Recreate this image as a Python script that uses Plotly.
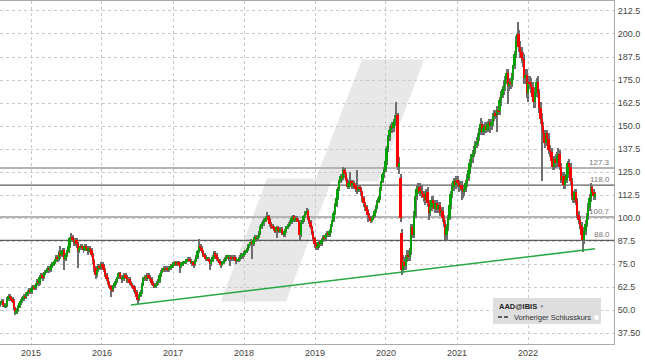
import plotly.graph_objects as go
import pandas as pd
import numpy as np

# ---------------- data (weekly candles) ----------------
first_week = "2014-07-28"

closes = [
54,55,53,52,53,56,58,57,56,55,
51,49,50,52,54,55,56,58,57,59,
60,61,60,62,63,62,64,66,65,68,
69,68,70,71,72,73,72,74,75,76,
77,79,78,81,80,82,83,78,80,82,
85,89,90,88,87,88,86,82,84,85,
84,83,85,84,82,84,83,80,77,73,
69,72,74,73,75,74,72,69,67,65,
63,62,61,63,65,66,68,70,68,67,
67,69,68,66,67,65,64,63,62,60,
57,56,58,60,64,67,68,67,69,68,
67,65,64,63,64,65,66,69,71,72,
73,72,73,72,73,74,74,75,76,75,
76,75,74,75,76,76,77,77,78,77,
76,76,75,77,79,82,85,84,82,80,
79,78,78,77,75,77,79,81,80,78,
77,76,75,76,77,78,79,79,78,79,
78,79,78,77,77,78,79,80,80,81,
82,83,85,86,87,86,88,90,89,90,
92,95,97,98,99,100,101,99,97,96,
95,94,93,95,94,93,94,92,91,93,
95,96,97,98,100,101,99,100,99,98,
91,98,99,101,103,104,100,98,95,92,
89,86,84,85,87,86,88,90,89,91,
92,91,93,96,99,103,107,111,116,120,
123,122,126,124,121,117,119,120,118,119,
118,116,115,117,116,114,111,108,106,104,
102,100,99,100,101,104,106,109,111,116,
120,124,126,131,138,144,148,150,149,152,
154,156,128,130,100,72,76,74,78,80,
79,82,95,91,102,112,116,117,114,115,
113,112,110,114,108,103,106,110,108,105,
108,105,107,103,104,100,97,91,95,100,
107,113,117,120,118,121,119,117,118,116,
114,116,119,122,126,130,133,135,137,140,
141,144,147,151,147,149,150,148,151,152,
150,152,155,157,156,159,158,164,167,170,
172,175,179,172,174,173,177,183,189,196,
200,193,190,187,186,176,178,168,174,173,
171,166,163,168,174,168,160,154,150,146,
141,146,143,137,136,131,128,132,130,134,
135,128,121,123,118,121,124,130,128,120,
112,110,114,109,102,99,96,91,88,93,
97,101,106,111,117,114,112,113]

opens = [
53,54,55,53,52,53,56,58,57,56,
55,51,49,50,52,54,55,56,58,57,
59,60,61,60,62,63,62,64,66,65,
68,69,68,70,71,72,73,72,74,75,
76,77,79,78,81,80,82,83,78,80,
82,85,89,90,88,87,88,86,82,84,
85,84,83,85,84,82,84,83,80,77,
73,69,72,74,73,75,74,72,69,67,
65,63,62,61,63,65,66,68,70,68,
67,67,69,68,66,67,65,64,63,62,
60,57,56,58,60,64,67,68,67,69,
68,67,65,64,63,64,65,66,69,71,
72,73,72,73,72,73,74,74,75,76,
75,76,75,74,75,76,76,77,77,78,
77,76,76,75,77,79,82,85,84,82,
80,79,78,78,77,75,77,79,81,80,
78,77,76,75,76,77,78,79,79,78,
79,78,79,78,77,77,78,79,80,80,
81,82,83,85,86,87,86,88,90,89,
90,92,95,97,98,99,100,101,99,97,
96,95,94,93,95,94,93,94,92,91,
93,95,96,97,98,100,101,99,100,99,
98,91,98,99,101,103,104,100,98,95,
92,89,86,84,85,87,86,88,90,89,
91,92,91,93,96,99,103,107,111,116,
120,123,122,126,124,121,117,119,120,118,
119,118,116,115,117,116,114,111,108,106,
104,102,100,99,100,101,104,106,109,111,
116,120,124,126,131,138,144,148,150,149,
152,154,156,128,122,92,72,76,74,78,
80,79,82,95,91,102,112,116,117,114,
115,113,112,110,114,108,103,106,110,108,
105,108,105,107,103,104,100,97,91,95,
100,107,113,117,120,118,121,119,117,118,
116,114,116,119,122,126,130,133,135,137,
140,141,144,147,151,147,149,150,148,151,
152,150,152,155,157,156,159,158,164,167,
170,172,175,179,172,174,173,177,183,189,
196,200,193,190,187,186,176,178,168,174,
173,171,166,163,168,174,168,160,154,150,
146,141,146,143,137,136,131,128,132,130,
134,135,128,121,123,118,121,124,130,128,
120,112,110,114,109,102,99,96,91,88,
93,97,101,106,111,117,114,112]

highs = [
55,56,56,54,54,57,59,59,58,57,
56,52,51,53,55,56,57,59,59,60,
61,62,62,63,64,64,65,67,67,69,
70,70,71,72,73,74,74,75,76,77,
78,80,80,82,85,83,84,84,81,83,
86,90,92,91,89,89,89,87,85,86,
86,85,86,86,85,85,85,84,81,78,
74,73,75,75,76,76,75,73,70,68,
66,64,63,64,66,67,69,71,71,69,
68,70,70,69,68,68,66,65,64,63,
61,58,59,61,65,68,69,69,70,70,
69,68,66,65,65,66,67,70,72,73,
74,74,74,74,74,75,75,76,77,77,
77,77,76,76,77,77,78,78,79,79,
78,77,77,78,80,83,88.5,86,85,83,
81,80,79,79,78,78,80,82,82,81,
79,78,77,77,78,79,80,80,80,80,
80,80,80,79,78,79,80,81,81,82,
83,84,86,87,88.5,88,89,91,91,91,
93,96,98,99,100,101,103.5,102,100,98,
97,96,95,96,96,95,95,95,93,94,
96,97,98,99,101,102,102,101,101,100,
99,99,100,102,104,105.5,105,101,99,96,
93,90,87,86,88,88,89,91,91,92,
93,93,94,97,100,104,108,112,117,121,
124,124,128,127,125,122,121,125,121,121,
120,119,126,118,118,117,115,112,109,107,
105,103,101,101,102,105,107,110,112,117,
121,125,128,132,139,145,150,151,152,154,
156,163,157,133,124,94,80,79,80,83,
83,84,97,97,104,114,118,119,119,117,
118,115,114,116,117,110,108,112,112,110,
110,110,109,109,106,106,102,99,97,102,
109,115,119,122,122,123,123,121,120,120,
118,118,121,124,128,132,135,137,139,142,
144,146,149,154.5,153,151,152,152,153,154,
154,154,157,159,159,161,161,166,169,172,
175,177,181,181,176,176,179,185,191,199,
206.5,202,196,193,190,189,181,181,177,177,
176,174,169,171,176,177,170,163,157,152,
148,148,148,146,140,138,133,134,135,136,
138,137,130,125,125,123,126,131,132,130,
122,115,116,116,111,104,101,98,93,95,
99,103,108,113,119,118,116,114]

lows = [
52,53,52,51,51,52,55,56,55,54,
50,47.5,48,49,51,53,54,55,56,56,
58,59,59,59,61,61,61,63,63,64,
67,66,67,69,70,71,70,71,73,74,
75,76,76,77,78,79,80,72,77,79,
81,84,87,87,85,85,84,73,81,83,
83,81,82,83,80,81,82,79,75,71,
67,68,71,72,72,73,71,68,66,64,
62,57,60,60,62,64,65,67,67,65,
66,66,67,65,65,64,63,62,60,59,
56,53.5,55,57,59,63,66,66,66,67,
66,64,63,62,62,63,64,65,68,70,
71,71,71,71,71,72,73,73,74,74,
74,74,70.5,73,74,75,75,76,76,76,
75,74,73,74,76,78,81,82,81,79,
78,77,77,76,72,74,76,78,79,77,
76,75,73,74,75,76,77,78,77,74,
77,77,77,75,76,76,77,78,78,79,
80,81,82,84,85,78,85,87,87,88,
89,91,94,96,96,98,99,97,95,94,
94,93,92,89,93,92,92,91,90,90,
92,94,95,96,97,99,98,98,98,97,
88,90,97,98,100,102,99,97,94,91,
88,84,82.5,83,84,85,85,87,88,88,
90,90,90,92,95,98,102,106,110,115,
119,120,121,122,120,116,116,117,116,117,
116,114,113,114,114,112,109,106,104,102,
98,99,97.5,98,99,100,103,105,108,110,
115,119,122,125,129,136,142,146,146,147,
150,151,126,124,98,69,70,72,72,76,
77,77,80,89,89,100,110,113,112,112,
111,109,107,108,106,99,101,104,105,103,
103,103,103,101,101,98,95,88,87.5,93,
99,105,111,115,116,116,117,114,115,110,
111,112,114,117,120,124,128,130,133,135,
138,139,142,145,145,145,147,146,147,147,
146,148,150,153,154,147,156,156,161,165,
167,169,173,162,169,170,171,175,181,187,
193,190,187,184,182,173,173,165,163,170,
168,163,160,160,166,165,157,151,120,143,
138,139,140,135,133,129,126,126,127,128,
132,126,119,119,116,116,119,122,126,118,
110,108,108,107,100,97,94,89,81.5,86,
91,95,99,104,109,112,110,110]

levels = [127.3, 118.0, 100.7, 88.0]
level_labels = ["127.3", "118.0", "100.7", "88.0"]

trend_dates = ["2016-05-29", "2022-12-11"]
trend_values = [52.9, 83.4]

year_ticks = ["2015-01-01", "2016-01-01", "2017-01-01", "2018-01-01",
              "2019-01-01", "2020-01-01", "2021-01-01", "2022-01-01"]
year_labels = ["2015", "2016", "2017", "2018", "2019", "2020", "2021", "2022"]

price_ticks = [37.5, 50, 62.5, 75, 87.5, 100, 112.5, 125, 137.5, 150,
               162.5, 175, 187.5, 200, 212.5]
price_labels = ["37.50", "50.0", "62.5", "75.0", "87.5", "100.0", "112.5", "125.0",
                "137.5", "150.0", "162.5", "175.0", "187.5", "200.0", "212.5"]

ticker = "AAD@IBIS"
legend_text = "Vorheriger Schlusskurs"

# ---------------- figure ----------------
W, H = 645, 363
ML, MR, MT, MB = 0, 31, 1, 19
PW, PH = W - ML - MR, H - MT - MB
FONT = "Liberation Sans, Arial, sans-serif"
DAY_MS = 86400000


def px(x):
    return x / PW


def py(y):
    return (PH + MT - y) / PH


dates = pd.date_range(first_week, periods=len(closes), freq="7D")
o = np.array(opens, float)
c = np.array(closes, float)
hi = np.array(highs, float)
lo = np.array(lows, float)

up = c >= o
body_base = np.minimum(o, c)
body_h = np.maximum(np.abs(c - o), 0.8)
body_col = np.where(up, "#00a000", "#ff0000")

fig = go.Figure()
# wicks (thin bars, drawn first so the bodies sit on top)
fig.add_trace(go.Bar(x=dates, y=hi - lo, base=lo, width=5 * DAY_MS,
                     marker=dict(color="#6e6e6e", line=dict(width=0)),
                     hoverinfo="skip", showlegend=False))
# bodies
fig.add_trace(go.Bar(x=dates, y=body_h, base=body_base, width=10 * DAY_MS,
                     marker=dict(color=body_col, line=dict(width=0)),
                     showlegend=False))
fig.add_trace(go.Scatter(x=trend_dates, y=trend_values, mode="lines",
                         line=dict(color="#27a844", width=1.6),
                         hoverinfo="skip", showlegend=False))

shapes = []
# watermark (stepped slanted logo shape)
wm = [(363, 61), (422, 61), (377, 180), (330, 180), (285, 300),
      (223, 300), (268, 180), (317, 180)]
path = "M " + " L ".join(f"{px(a):.4f},{py(b):.4f}" for a, b in wm) + " Z"
shapes.append(dict(type="path", path=path, xref="paper", yref="paper",
                   fillcolor="#e8e8e8", line=dict(color="#e8e8e8", width=3),
                   layer="below"))

for v in levels:
    thick = v in (127.3, 100.7)
    shapes.append(dict(type="line", xref="paper", yref="y", x0=0, x1=1, y0=v, y1=v,
                       line=dict(color="#b4b4b4" if thick else "#5c5c5c",
                                 width=2 if thick else 1.2),
                       layer="between"))

annotations = []
for v, t in zip(levels, level_labels):
    annotations.append(dict(x=px(612), xref="paper", y=v, yref="y", text=t,
                            showarrow=False, xanchor="right", yanchor="bottom",
                            yshift=-1, font=dict(size=8, color="#777", family=FONT)))

# legend box
shapes.append(dict(type="rect", xref="paper", yref="paper",
                   x0=px(493), x1=px(601), y0=py(324), y1=py(298),
                   fillcolor="#dedede", line=dict(width=0), layer="above"))
shapes.append(dict(type="line", xref="paper", yref="paper",
                   x0=px(498), x1=px(510), y0=py(317), y1=py(317),
                   line=dict(color="#333", width=1.3, dash="4px,2px"), layer="above"))
shapes.append(dict(type="rect", xref="paper", yref="paper",
                   x0=px(594), x1=px(599), y0=py(320), y1=py(315),
                   fillcolor="#ffffff", line=dict(color="#cccccc", width=0.5),
                   layer="above"))
annotations.append(dict(x=px(497), xref="paper", y=py(306), yref="paper",
                        text="<b>" + ticker + "</b>", showarrow=False,
                        xanchor="left", yanchor="middle",
                        font=dict(size=7.5, color="#222", family=FONT)))
annotations.append(dict(x=px(538), xref="paper", y=py(306), yref="paper",
                        text="●", showarrow=False, xanchor="left", yanchor="middle",
                        font=dict(size=6, color="#8a97a8")))
annotations.append(dict(x=px(512), xref="paper", y=py(317), yref="paper",
                        text=legend_text, showarrow=False,
                        xanchor="left", yanchor="middle",
                        font=dict(size=7.5, color="#333", family=FONT)))

fig.update_layout(
    width=W, height=H,
    margin=dict(l=ML, r=MR, t=MT, b=MB),
    paper_bgcolor="white", plot_bgcolor="white",
    showlegend=False, barmode="overlay",
    shapes=shapes, annotations=annotations,
    font=dict(family=FONT, size=9, color="#444"),
    xaxis=dict(type="date", range=["2014-07-25 12:00", "2023-03-19"],
               tickvals=year_ticks, ticktext=year_labels,
               showgrid=True, gridcolor="#c8c8c8", griddash="dot", gridwidth=1,
               showline=True, linecolor="#aaaaaa", mirror=True,
               ticks="", zeroline=False, fixedrange=True,
               tickfont=dict(size=9, color="#444")),
    yaxis=dict(side="right", range=[31.7, 217.9],
               tickvals=price_ticks, ticktext=price_labels,
               showgrid=True, gridcolor="#c8c8c8", griddash="dot", gridwidth=1,
               showline=True, linecolor="#aaaaaa", mirror=True,
               ticks="outside", ticklen=1, tickcolor="white",
               zeroline=False, fixedrange=True,
               tickfont=dict(size=9, color="#444")),
    bargap=0,
)

fig.write_html("out.html", config={"displayModeBar": False},
               post_script="document.body.style.margin='0px';")
